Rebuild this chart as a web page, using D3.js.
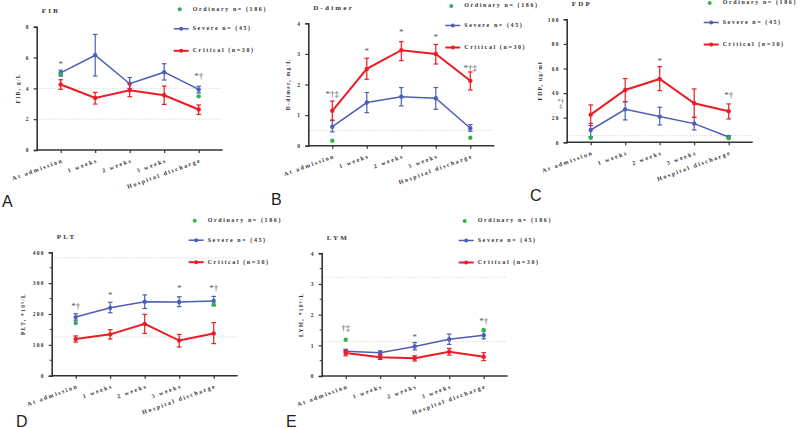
<!DOCTYPE html>
<html>
<head>
<meta charset="utf-8">
<script src="https://cdn.jsdelivr.net/npm/d3@7"></script>
<style>
  body { margin: 0; background: #fff; }
  text { font-family: "Liberation Serif", serif; font-weight: bold; fill: #333; }
  .letter { font-family: "Liberation Sans", Arial, sans-serif; font-weight: normal; fill: #222; }
</style>
</head>
<body>
<script>
// Categories shared by every panel
const categories = ['At admission', '1 weeks', '2 weeks', '3 weeks', 'Hospital discharge'];
const legendNames = ['Ordinary n= (186)', 'Severe n= (45)', 'Critical (n=30)'];

// FIB, g/L
const fibSevere = [5.0, 6.15, 4.3, 5.05, 3.93];
const fibSevereLo = [4.8, 4.8, 4.0, 4.54, 3.7];
const fibSevereHi = [5.18, 7.5, 4.7, 5.6, 4.14];
const fibCritical = [4.25, 3.38, 3.88, 3.55, 2.63];
const fibCriticalLo = [3.94, 2.98, 3.46, 2.96, 2.31];
const fibCriticalHi = [4.56, 3.74, 4.3, 4.15, 2.92];
const fibOrdinary = [4.9, null, null, null, 3.48];

// D-dimer, mg/L
const ddSevere = [0.62, 1.41, 1.6, 1.55, 0.57];
const ddSevereLo = [0.45, 1.08, 1.3, 1.19, 0.47];
const ddSevereHi = [0.82, 1.74, 1.9, 1.9, 0.69];
const ddCritical = [1.14, 2.51, 3.12, 3.0, 2.12];
const ddCriticalLo = [0.84, 2.17, 2.78, 2.67, 1.82];
const ddCriticalHi = [1.46, 2.86, 3.4, 3.31, 2.41];
const ddOrdinary = [0.16, null, null, null, 0.26];

// FDP, ug/ml
const fdpSevere = [10, 26.8, 20.9, 15.2, 4.3];
const fdpSevereLo = [4.6, 18.2, 14.1, 10, 3.5];
const fdpSevereHi = [15.4, 33, 28.5, 20.3, 5.4];
const fdpCritical = [22.5, 42.5, 51.5, 31.7, 25.2];
const fdpCriticalLo = [13.6, 33, 42, 20.3, 19];
const fdpCriticalHi = [30.4, 51.8, 61.5, 43.4, 31.2];
const fdpOrdinary = [3.6, null, null, null, 3.2];

// PLT, *10^9/L
const pltSevere = [190, 220, 240, 239, 242];
const pltSevereLo = [180, 204, 218, 224, 227];
const pltSevereHi = [201, 238, 262, 256, 257];
const pltCritical = [119, 134, 168, 114, 137];
const pltCriticalLo = [109, 119, 137, 93, 104];
const pltCriticalHi = [129, 149, 199, 134, 172];
const pltOrdinary = [171, null, null, null, 231];

// LYM, *10^9/L
const lymSevere = [0.81, 0.76, 0.96, 1.2, 1.33];
const lymSevereLo = [0.75, 0.7, 0.85, 1.03, 1.21];
const lymSevereHi = [0.87, 0.82, 1.09, 1.37, 1.47];
const lymCritical = [0.75, 0.61, 0.58, 0.79, 0.63];
const lymCriticalLo = [0.66, 0.54, 0.49, 0.68, 0.5];
const lymCriticalHi = [0.85, 0.68, 0.66, 0.9, 0.76];
const lymOrdinary = [1.18, null, null, null, 1.5];

const red = '#ec1c24';
const blue = '#4d5fb5';
const green = '#2fb34a';

const panels = [
  { letter: 'A', title: 'FIB', yLabel: 'FIB, g/L', left: 36.7, top: 26.7, h: 123.3, yMax: 8, step: 2, minor: false,
    labelOff: 17, legendY: 9.3, letterPos: [2, 207], refs: [4, 2],
    severe: [fibSevere, fibSevereLo, fibSevereHi], critical: [fibCritical, fibCriticalLo, fibCriticalHi], ordinary: fibOrdinary,
    notes: [[0, 5.5, ['*']], [4, 4.72, ['*†']]] },
  { letter: 'B', title: 'D-dimer', yLabel: 'D-dimer, mg/L', left: 308.3, top: 23.3, h: 122.4, yMax: 4, step: 1, minor: false,
    labelOff: 18, legendY: 6, letterPos: [271, 205], refs: [0.5],
    severe: [ddSevere, ddSevereLo, ddSevereHi], critical: [ddCritical, ddCriticalLo, ddCriticalHi], ordinary: ddOrdinary,
    notes: [[0, 1.66, ['*†‡']], [1, 3.07, ['*']], [2, 3.67, ['*']], [3, 3.51, ['*']], [4, 2.5, ['*†‡']]] },
  { letter: 'C', title: 'FDP', yLabel: 'FDP, ug/ml', left: 566.7, top: 19.3, h: 123, yMax: 100, step: 20, minor: false,
    labelOff: 25, legendY: 3, letterPos: [530, 201], refs: [5.4],
    severe: [fdpSevere, fdpSevereLo, fdpSevereHi], critical: [fdpCritical, fdpCriticalLo, fdpCriticalHi], ordinary: fdpOrdinary,
    notes: [[2, 65.5, ['*']], [4, 37.6, ['*†']], [-0.87, 33.2, ['*†', '‡'], 7]] },
  { letter: 'D', title: 'PLT', yLabel: 'PLT, *10⁹/L', left: 51.7, top: 252.3, h: 123.4, yMax: 400, step: 100, minor: true,
    labelOff: 27, legendY: 220.7, letterPos: [16, 427], refs: [382, 126],
    severe: [pltSevere, pltSevereLo, pltSevereHi], critical: [pltCritical, pltCriticalLo, pltCriticalHi], ordinary: pltOrdinary,
    notes: [[0, 224, ['*†']], [1, 258, ['*']], [3, 281, ['*']], [4, 281, ['*†']]] },
  { letter: 'E', title: 'LYM', yLabel: 'LYM, *10⁹/L', left: 321.7, top: 253.3, h: 122.7, yMax: 4, step: 1, minor: true,
    labelOff: 19, legendY: 221, letterPos: [286, 427], refs: [3.22, 1.12],
    severe: [lymSevere, lymSevereLo, lymSevereHi], critical: [lymCritical, lymCriticalLo, lymCriticalHi], ordinary: lymOrdinary,
    notes: [[0, 1.53, ['†‡']], [2, 1.25, ['*']], [4, 1.75, ['*†']]] }
];

const svg = d3.select('body').append('svg')
  .attr('width', 800)
  .attr('height', 429);

panels.forEach((p) => {
  const g = svg.append('g');
  const bottom = p.top + p.h;
  const right = p.left + 186;

  const x = d3.scaleLinear().domain([0, 4]).range([p.left + 24, p.left + 162]);
  const y = d3.scaleLinear().domain([0, p.yMax]).range([bottom, p.top]);

  // dotted reference lines
  g.selectAll('.ref').data(p.refs).enter().append('line')
    .attr('x1', p.left).attr('x2', right)
    .attr('y1', (d) => y(d)).attr('y2', (d) => y(d))
    .attr('stroke', '#c8c8c8').attr('stroke-width', 1).attr('stroke-dasharray', '1,2');

  // y axis
  const yTicks = d3.range(0, p.yMax + p.step / 2, p.step);
  const yAxis = d3.axisLeft(y).tickValues(yTicks).tickSize(3).tickPadding(4).tickFormat(d3.format('d'));
  const ya = g.append('g').attr('transform', `translate(${p.left},0)`).call(yAxis);
  if (p.minor) {
    const minorTicks = d3.range(p.step / 2, p.yMax, p.step);
    g.selectAll('.minor').data(minorTicks).enter().append('line')
      .attr('x1', p.left - 2).attr('x2', p.left)
      .attr('y1', (d) => y(d)).attr('y2', (d) => y(d))
      .attr('stroke', '#333').attr('stroke-width', 1);
  }

  // x axis
  const xAxis = d3.axisBottom(x).tickValues(d3.range(5)).tickSize(3).tickFormat('');
  const xa = g.append('g').attr('transform', `translate(0,${bottom})`).call(xAxis);
  xa.select('.domain').attr('d', `M${p.left},0H${right}`);

  [ya, xa].forEach((a) => {
    a.select('.domain').attr('stroke', '#333').attr('stroke-width', 1.6);
    a.selectAll('.tick line').attr('stroke', '#333').attr('stroke-width', 1.2);
  });
  ya.selectAll('.tick text').style('font-size', '5.5px').style('letter-spacing', '1.2px').attr('fill', '#333');

  // category labels
  g.selectAll('.cat').data(categories).enter().append('text')
    .attr('transform', (d, i) => `translate(${x(i) + 3},${bottom + 12}) rotate(-20)`)
    .attr('text-anchor', 'end')
    .style('font-size', '6px').style('letter-spacing', '1.7px')
    .text((d) => d);

  // title + y label
  g.append('text').attr('x', p.left + 5).attr('y', p.top - 13.5)
    .style('font-size', '7px').style('letter-spacing', '2.2px').text(p.title);
  g.append('text')
    .attr('transform', `translate(${p.left - p.labelOff},${p.top + p.h * 0.5}) rotate(-90)`)
    .attr('text-anchor', 'middle')
    .style('font-size', '5.5px').style('letter-spacing', '1.3px')
    .text(p.yLabel);

  // series
  const series = [
    { vals: p.severe, color: blue, w: 1.5 },
    { vals: p.critical, color: red, w: 2 }
  ];
  series.forEach((s) => {
    const [mid, lo, hi] = s.vals;
    const line = d3.line().x((d, i) => x(i)).y((d) => y(d));
    g.append('path').datum(mid).attr('d', line)
      .attr('fill', 'none').attr('stroke', s.color).attr('stroke-width', s.w);
    const eb = g.selectAll(null).data(mid).enter().append('g');
    eb.append('line')
      .attr('x1', (d, i) => x(i)).attr('x2', (d, i) => x(i))
      .attr('y1', (d, i) => y(lo[i])).attr('y2', (d, i) => y(hi[i]))
      .attr('stroke', s.color).attr('stroke-width', 1.2);
    [lo, hi].forEach((arr) => {
      eb.append('line')
        .attr('x1', (d, i) => x(i) - 2.3).attr('x2', (d, i) => x(i) + 2.3)
        .attr('y1', (d, i) => y(arr[i])).attr('y2', (d, i) => y(arr[i]))
        .attr('stroke', s.color).attr('stroke-width', 1.2);
    });
    eb.append('circle')
      .attr('cx', (d, i) => x(i)).attr('cy', (d) => y(d))
      .attr('r', 2.2).attr('fill', s.color);
  });

  // ordinary points
  g.selectAll('.ord').data(p.ordinary.map((v, i) => [i, v]).filter((d) => d[1] != null))
    .enter().append('circle')
    .attr('cx', (d) => x(d[0])).attr('cy', (d) => y(d[1]))
    .attr('r', 2.2).attr('fill', green);

  // significance marks (multi-line marks stacked with tspans)
  const notes = g.selectAll('.note').data(p.notes).enter().append('text')
    .attr('x', (d) => x(d[0])).attr('y', (d) => y(d[1]))
    .attr('text-anchor', 'middle').attr('dominant-baseline', 'middle')
    .style('font-size', (d) => (d[3] || 9) + 'px').style('font-weight', 'normal')
    .style('fill', '#555');
  notes.each(function (d) {
    d3.select(this).selectAll('tspan').data(d[2]).enter().append('tspan')
      .attr('x', x(d[0]))
      .attr('dy', (t, i) => (i === 0 ? 0 : '0.6em'))
      .text((t) => t);
  });

  // legend
  const lx = p.left + 143;
  const rows = [p.legendY, p.legendY + 19.5, p.legendY + 41.5];
  g.append('circle').attr('cx', lx).attr('cy', rows[0]).attr('r', 2).attr('fill', green);
  [[blue, rows[1], 1.5], [red, rows[2], 2]].forEach(([c, ly, w]) => {
    g.append('line').attr('x1', lx - 6).attr('x2', lx + 9).attr('y1', ly).attr('y2', ly)
      .attr('stroke', c).attr('stroke-width', w);
    g.append('circle').attr('cx', lx + 1.5).attr('cy', ly).attr('r', 2).attr('fill', c);
  });
  g.selectAll('.leg').data(legendNames).enter().append('text')
    .attr('x', lx + 13).attr('y', (d, i) => rows[i])
    .attr('dominant-baseline', 'middle')
    .style('font-size', '6px').style('letter-spacing', '1.6px')
    .text((d) => d);

  // panel letter
  g.append('text').attr('class', 'letter')
    .attr('x', p.letterPos[0]).attr('y', p.letterPos[1])
    .style('font-size', '16px').text(p.letter);
});
</script>
</body>
</html>
